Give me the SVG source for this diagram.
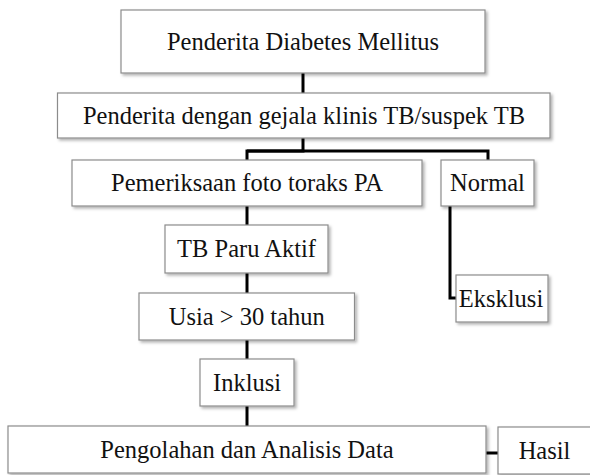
<svg xmlns="http://www.w3.org/2000/svg" width="590" height="475" viewBox="0 0 590 475">
<defs>
<filter id="sh" x="-10%" y="-20%" width="120%" height="150%">
<feDropShadow dx="2" dy="2" stdDeviation="1.5" flood-color="#000" flood-opacity="0.3"/>
</filter>
<linearGradient id="fade" x1="0" y1="0" x2="1" y2="0">
<stop offset="0" stop-color="#000"/>
<stop offset="1" stop-color="#000" stop-opacity="0.3"/>
</linearGradient>
</defs>
<style>
.box{fill:#fff;stroke:#8c8c8c;stroke-width:1.2;filter:url(#sh)}
.t{font-family:'Times New Roman', Tinos, 'Liberation Serif', serif;font-size:24.5px;fill:#111;text-anchor:middle}
.c{stroke:#000;stroke-width:3;fill:none}
</style>
<rect width="590" height="475" fill="#fff"/>
<g id="connectors">
<line class="c" x1="303" y1="73" x2="303" y2="93"/>
<polyline class="c" points="303,138 303,151 247,151 247,160"/>
<polyline class="c" points="247,151 488,151 488,160"/>
<line class="c" x1="247" y1="206" x2="247" y2="225"/>
<line class="c" x1="247" y1="273" x2="247" y2="293"/>
<line class="c" x1="247" y1="340" x2="247" y2="359"/>
<line class="c" x1="247" y1="406" x2="247" y2="426"/>
<polyline class="c" points="450,206 450,298 456,298"/>
<line class="c" x1="486" y1="453" x2="498" y2="453"/>
<line x1="56" y1="474" x2="101" y2="474" stroke="url(#fade)" stroke-width="3"/>
</g>
<g id="n1"><rect class="box" x="121" y="10" width="364" height="63"/><text class="t" x="303" y="50">Penderita Diabetes Mellitus</text></g>
<g id="n2"><rect class="box" x="57.5" y="93" width="492.5" height="45"/><text class="t" x="304" y="124">Penderita dengan gejala klinis TB/suspek TB</text></g>
<g id="n3"><rect class="box" x="72" y="160" width="350" height="46"/><text class="t" x="247" y="191">Pemeriksaan foto toraks PA</text></g>
<g id="n4"><rect class="box" x="441" y="160" width="93" height="46"/><text class="t" x="487.5" y="191">Normal</text></g>
<g id="n5"><rect class="box" x="165" y="225" width="163" height="48"/><text class="t" x="246.5" y="257">TB Paru Aktif</text></g>
<g id="n6"><rect class="box" x="456" y="275" width="92" height="47"/><text class="t" x="501" y="307">Eksklusi</text></g>
<g id="n7"><rect class="box" x="139" y="293" width="215.5" height="47"/><text class="t" x="246.75" y="325">Usia &gt; 30 tahun</text></g>
<g id="n8"><rect class="box" x="200" y="359" width="94" height="47"/><text class="t" x="247" y="391">Inklusi</text></g>
<g id="n9"><rect class="box" x="8" y="426" width="478" height="47"/><text class="t" x="247" y="458">Pengolahan dan Analisis Data</text></g>
<g id="n10"><rect class="box" x="498" y="427" width="96" height="47"/><text class="t" x="544.5" y="459">Hasil</text></g>
</svg>
